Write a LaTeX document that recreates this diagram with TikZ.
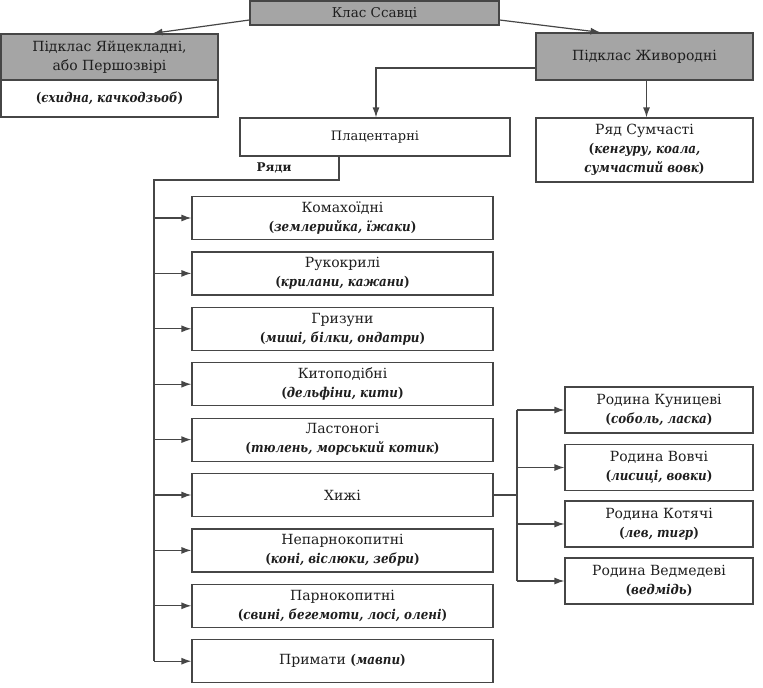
\documentclass[tikz,border=0pt]{standalone}
\usepackage{fontspec}
\setmainfont{DejaVu Serif}
\newfontfamily\exfont{DejaVu Serif}[FakeStretch=0.88]
\usetikzlibrary{arrows.meta}

\definecolor{boxgray}{RGB}{165,165,165}
\definecolor{linegray}{RGB}{70,70,70}
\definecolor{textgray}{RGB}{30,30,30}

\newcommand{\ex}[1]{{\exfont\fontsize{13.5}{19}\selectfont\bfseries(\textit{#1})}}

\begin{document}
\begin{tikzpicture}[x=1pt,y=-1pt,
    box/.style={draw=linegray, line width=1.2pt, align=center, inner sep=0pt,
        text=textgray, font=\fontsize{14}{19}\selectfont},
    grey/.style={box, fill=boxgray},
    order/.style={box, minimum width=301pt, minimum height=43pt},
    family/.style={box, minimum width=188pt, minimum height=46pt},
    link/.style={draw=linegray, line width=1.2pt},
    arr/.style={link, -{Latex[length=10pt,width=7pt]}}]

    \useasboundingbox (0,0) rectangle (763,688);

    % class and subclasses
    \node[grey, minimum width=249pt, minimum height=24pt, font=\fontsize{13.5}{19}\selectfont] (klas)
        at (374.5,13) {Клас Ссавці};
    \node[grey, minimum width=217pt, minimum height=46pt] (yaj) at (109.5,57)
        {Підклас Яйцекладні,\\або Першозвірі};
    \node[box, minimum width=217pt, minimum height=37pt] (yajex) at (109.5,98.5)
        {\ex{єхидна, качкодзьоб}};
    \node[grey, minimum width=217pt, minimum height=47pt] (zhyv) at (644.5,56.5) {Підклас Живородні};
    \node[box, minimum width=270pt, minimum height=38pt, font=\fontsize{13}{19}\selectfont] (plac)
        at (375,137) {Плацентарні};
    \node[box, minimum width=217pt, minimum height=64pt] (sumch) at (644.5,150)
        {Ряд Сумчасті\\{\exfont\fontsize{13.5}{19}\selectfont\bfseries(\itshape кенгуру, коала,}\\%
         {\exfont\fontsize{13.5}{19}\selectfont\bfseries\itshape сумчастий вовк\upshape)}};
    \node[text=textgray, font=\fontsize{12}{14}\selectfont\bfseries] (rjady) at (274,168) {Ряди};

    % orders
    \node[order] (o1) at (342.5,218) {Комахоїдні\\\ex{землерийка, їжаки}};
    \node[order] (o2) at (342.5,273.4) {Рукокрилі\\\ex{крилани, кажани}};
    \node[order] (o3) at (342.5,328.8) {Гризуни\\\ex{миші, білки, ондатри}};
    \node[order] (o4) at (342.5,384.2) {Китоподібні\\\ex{дельфіни, кити}};
    \node[order] (o5) at (342.5,439.6) {Ластоногі\\\ex{тюлень, морський котик}};
    \node[order] (o6) at (342.5,495) {Хижі};
    \node[order] (o7) at (342.5,550.4) {Непарнокопитні\\\ex{коні, віслюки, зебри}};
    \node[order] (o8) at (342.5,605.8) {Парнокопитні\\\ex{свині, бегемоти, лосі, олені}};
    \node[order] (o9) at (342.5,661.2) {Примати \ex{мавпи}};

    % families
    \node[family] (f1) at (659,410) {Родина Куницеві\\\ex{соболь, ласка}};
    \node[family] (f2) at (659,467.5) {Родина Вовчі\\\ex{лисиці, вовки}};
    \node[family] (f3) at (659,524) {Родина Котячі\\\ex{лев, тигр}};
    \node[family] (f4) at (659,581) {Родина Ведмедеві\\\ex{ведмідь}};

    % connectors
    \draw[arr] ([yshift=-7pt]klas.west) -- ([xshift=43pt]yaj.north);
    \draw[arr] ([yshift=-7pt]klas.east) -- ([xshift=-44pt]zhyv.north);
    \draw[arr] ([yshift=-11.5pt]zhyv.west) -| ([xshift=1pt]plac.north);
    \draw[arr] ([xshift=2pt]zhyv.south) -- ([xshift=2pt]sumch.north);

    \coordinate (trunk) at (154,180);
    \draw[link] ([xshift=-36pt]plac.south) |- (trunk) -- (trunk |- o9.west);
    \foreach \n in {1,...,9}
        \draw[arr] (trunk |- o\n.west) -- (o\n.west);

    \coordinate (fork) at (517,495);
    \draw[link] (o6.east) -- (fork);
    \draw[link] (fork |- f1.west) -- (fork |- f4.west);
    \foreach \n in {1,...,4}
        \draw[arr] (fork |- f\n.west) -- (f\n.west);

\end{tikzpicture}
\end{document}
